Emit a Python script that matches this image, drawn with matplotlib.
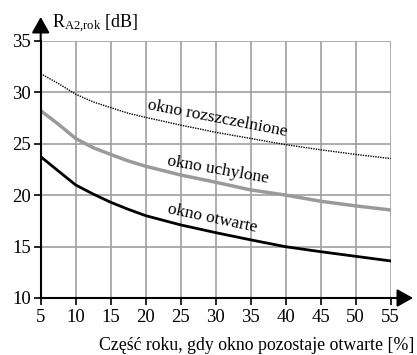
import matplotlib
matplotlib.use("Agg")
import matplotlib.pyplot as plt

plt.rcParams['font.family'] = ['Liberation Serif', 'DejaVu Serif']
plt.rcParams['mathtext.fontset'] = 'custom'
plt.rcParams['mathtext.rm'] = 'Liberation Serif'
plt.rcParams['mathtext.it'] = 'Liberation Serif:italic'

x = [5, 7.5, 10, 12.5, 15, 17.5, 20, 25, 30, 35, 40, 45, 50, 55]
rozszczelnione = [31.8, 30.85, 29.8, 29.05, 28.5, 27.95, 27.55, 26.8, 26.1, 25.5, 24.9, 24.4, 23.95, 23.55]
uchylone = [28.2, 26.9, 25.5, 24.6, 23.95, 23.32, 22.8, 21.95, 21.25, 20.5, 20.0, 19.4, 18.95, 18.55]
otwarte = [23.73, 22.35, 20.98, 20.1, 19.3, 18.62, 18.0, 17.1, 16.35, 15.65, 14.98, 14.5, 14.05, 13.6]
xticks = [5, 10, 15, 20, 25, 30, 35, 40, 45, 50, 55]
yticks = [10, 15, 20, 25, 30, 35]

W, H = 417, 355
fig = plt.figure(figsize=(W/100, H/100), dpi=100)
ax = fig.add_axes([40.7/W, 57/H, 350/W, 257.3/H])
ax.set_xlim(5, 55)
ax.set_ylim(10, 35)
ax.set_xticks(xticks)
ax.set_yticks(yticks)
ax.grid(True, color='#a0a0a0', linewidth=1.2)
ax.set_axisbelow(True)
for s in ['top', 'right']:
    ax.spines[s].set_visible(False)
for s in ['left', 'bottom']:
    ax.spines[s].set_color('black')
    ax.spines[s].set_linewidth(1.5)
ax.tick_params(axis='both', direction='out', length=5, width=1.2, colors='black')
ax.tick_params(axis='x', pad=3, labelsize=13.5)
ax.tick_params(axis='y', pad=2, labelsize=13.5)

ax.plot(x, rozszczelnione, color='black', linewidth=1.0, linestyle=(0, (1, 0.8)))
ax.plot(x, uchylone, color='#9a9a9a', linewidth=2.5)
ax.plot(x, otwarte, color='black', linewidth=2.0)

ax.text(30.3, 27.45, 'okno rozszczelnione', rotation=-11, ha='center', va='center', fontsize=12.5)
ax.text(30.3, 22.45, 'okno uchylone', rotation=-10, ha='center', va='center', fontsize=12.5)
ax.text(29.5, 17.7, 'okno otwarte', rotation=-12, ha='center', va='center', fontsize=12.5)

ap = dict(arrowstyle='-|>,head_length=0.8,head_width=0.45', color='black', lw=1.5,
          shrinkA=0, shrinkB=0, mutation_scale=12)
ax.annotate('', xy=(0, (H - 17 - 57) / 257.3), xytext=(0, 1.0), xycoords='axes fraction',
            textcoords='axes fraction', arrowprops=ap, annotation_clip=False)
ax.annotate('', xy=((413 - 40.7) / 350, 0), xytext=(1.0, 0), xycoords='axes fraction',
            textcoords='axes fraction', arrowprops=ap, annotation_clip=False)

fig.text(52/W, (H - 28)/H, r'R$_{\mathrm{A2{,}rok}}$ [dB]', fontsize=13, ha='left', va='baseline')
fig.text(414/W, 5/H, 'Część roku, gdy okno pozostaje otwarte [%]', fontsize=12.8,
         ha='right', va='baseline')

fig.savefig('out.png', dpi=100)
